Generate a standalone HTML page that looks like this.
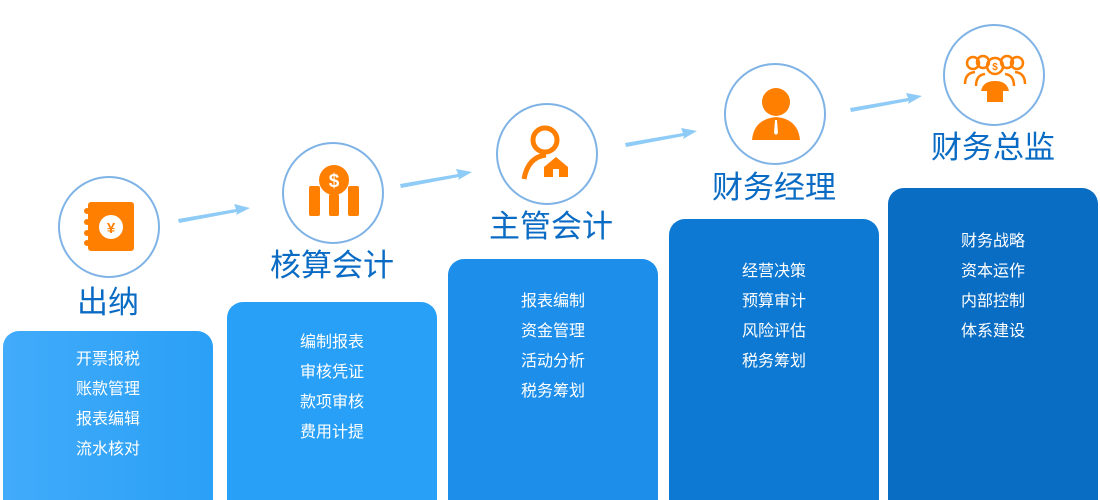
<!DOCTYPE html>
<html><head><meta charset="utf-8"><style>
html,body{margin:0;width:1100px;height:500px;overflow:hidden}
body{background:#fff;position:relative;font-family:"Liberation Sans","Noto Sans CJK SC",sans-serif}
.box{position:absolute;width:210px;border-radius:16px 16px 0 0;color:#fff;text-align:center;font-size:16px}
.box div{height:30px;line-height:30px}
.c{position:absolute;width:98px;height:98px;border:2px solid #7fb3e6;border-radius:50%;background:#fff}
.t{position:absolute;width:220px;text-align:center;color:#0a6bc4;font-size:31px;line-height:36px}
</style></head><body>
<svg width="1100" height="500" style="position:absolute;left:0;top:0">
<g fill="#8ecbf6">
<polygon points="178,219 236,209 234,204 250,208 236,215 237,212 179,223"/>
<polygon points="400,184 458,174 456,169 472,172 458,180 459,177 401,188"/>
<polygon points="625,143 683,133 681,128 697,131 683,139 684,136 626,147"/>
<polygon points="850,108 908,98 906,93 922,96 908,104 909,101 851,112"/>
</g></svg>
<div class="box" style="left:3px;top:331px;height:169px;background:linear-gradient(90deg,#42abfa,#2aa0f6)"><div style="height:14px"></div><div>开票报税</div><div>账款管理</div><div>报表编辑</div><div>流水核对</div></div>
<div class="box" style="left:227px;top:302px;height:198px;background:#28a0f8"><div style="height:26px"></div><div>编制报表</div><div>审核凭证</div><div>款项审核</div><div>费用计提</div></div>
<div class="box" style="left:448px;top:259px;height:241px;background:#1d8fea"><div style="height:28px"></div><div>报表编制</div><div>资金管理</div><div>活动分析</div><div>税务筹划</div></div>
<div class="box" style="left:669px;top:219px;height:281px;background:#0e79d2"><div style="height:38px"></div><div>经营决策</div><div>预算审计</div><div>风险评估</div><div>税务筹划</div></div>
<div class="box" style="left:888px;top:188px;height:312px;background:#096dc4"><div style="height:39px"></div><div>财务战略</div><div>资本运作</div><div>内部控制</div><div>体系建设</div></div>

<div class="c" style="left:58px;top:176px"><svg width="98" height="98"><rect x="28" y="24" width="46" height="49" rx="3" fill="#ff7f00"/><g fill="#ff7f00"><circle cx="27" cy="33" r="3"/><circle cx="27" cy="44" r="3"/><circle cx="27" cy="55" r="3"/><circle cx="27" cy="65" r="3"/></g><circle cx="51" cy="49" r="12" fill="#fff"/><text x="51" y="55" font-size="15" fill="#ff7f00" text-anchor="middle" font-weight="bold">¥</text></svg></div>
<div class="c" style="left:282px;top:142px"><svg width="98" height="98"><g fill="#ff7f00"><rect x="25" y="42" width="11" height="30" rx="2"/><rect x="45" y="50" width="10" height="22" rx="2"/><rect x="64" y="42" width="11" height="30" rx="2"/><circle cx="50" cy="36" r="15"/></g><text x="50" y="43" font-size="19" fill="#fff" text-anchor="middle" font-weight="bold">$</text></svg></div>
<div class="c" style="left:496px;top:103px"><svg width="98" height="98"><circle cx="47" cy="35" r="12" fill="none" stroke="#ff7f00" stroke-width="5"/><path d="M26 74 Q30 52 48 50" fill="none" stroke="#ff7f00" stroke-width="5"/><path d="M46 62 L58 52 L70 62 L70 72 L46 72 Z" fill="#ff7f00"/><rect x="55" y="64" width="6" height="8" fill="#fff"/></svg></div>
<div class="c" style="left:724px;top:63px"><svg width="98" height="98"><circle cx="50" cy="37" r="14" fill="#ff7f00"/><path d="M26 75 Q28 54 50 52 Q72 54 74 75 Z" fill="#ff7f00"/><path d="M49 55 L51 55 L52 68 L50 70 L48 68 Z" fill="#fff"/></svg></div>
<div class="c" style="left:943px;top:24px"><svg width="98" height="98"><g fill="none" stroke="#ff7f00" stroke-width="2.5"><circle cx="28" cy="37" r="6"/><circle cx="72" cy="37" r="6"/><circle cx="38" cy="36" r="6"/><circle cx="62" cy="36" r="6"/><circle cx="50" cy="40" r="8"/><path d="M20 58 Q20 47 30 46 M80 58 Q80 47 70 46"/><path d="M31 60 Q31 49 40 48 M69 60 Q69 49 60 48"/></g><path d="M36 65 Q38 55 50 55 Q62 55 64 65 L58 65 L58 76 L42 76 L42 65 Z" fill="#ff7f00"/><text x="50" y="44" font-size="10" fill="#ff7f00" text-anchor="middle" font-weight="bold">$</text></svg></div>

<div class="t" style="left:-2px;top:285px">出纳</div>
<div class="t" style="left:222px;top:248px">核算会计</div>
<div class="t" style="left:441px;top:209px">主管会计</div>
<div class="t" style="left:664px;top:170px">财务经理</div>
<div class="t" style="left:883px;top:130px">财务总监</div>
</body></html>
